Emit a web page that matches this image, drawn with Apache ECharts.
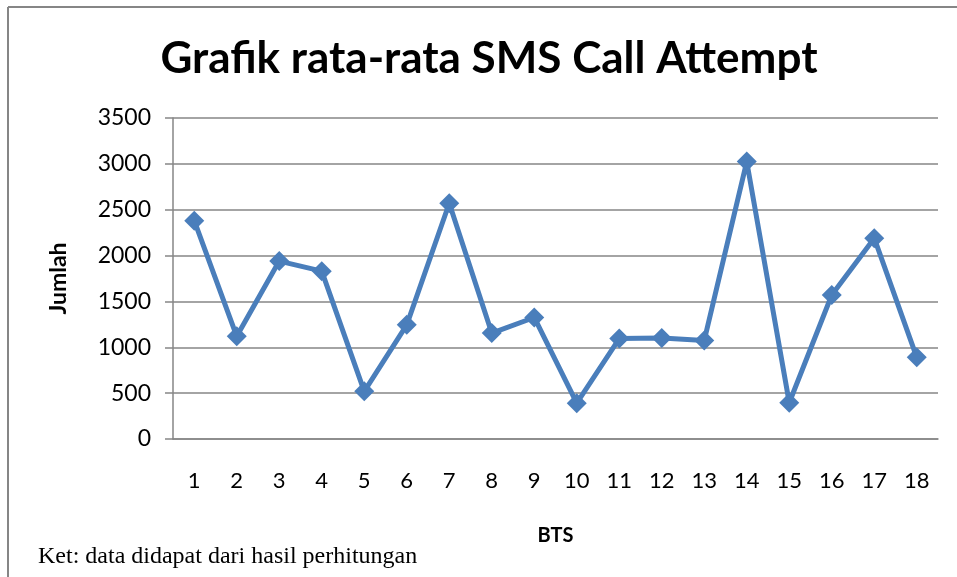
<!DOCTYPE html>
<html>
<head>
<meta charset="utf-8">
<title>Grafik rata-rata SMS Call Attempt</title>
<script src="https://cdn.jsdelivr.net/npm/echarts@6/dist/echarts.min.js"></script>
<style>
  html, body { margin: 0; padding: 0; background: #fff; }
  #chart { width: 957px; height: 577px; }
</style>
</head>
<body>
<div id="chart"></div>
<script>
'use strict';

// BTS numbers along the x axis
var btsLabels = ['1', '2', '3', '4', '5', '6', '7', '8', '9', '10', '11', '12', '13', '14', '15', '16', '17', '18'];
// average SMS call attempts per BTS
var smsAttempt = [2380, 1120, 1940, 1830, 520, 1245, 2570, 1155, 1325, 390, 1095, 1100, 1075, 3025, 395, 1570, 2190, 890];
// y axis range
var yMin = 0;
var yMax = 3500;
var yStep = 500;

var chartDom = document.getElementById('chart');
var myChart = echarts.init(chartDom);

var gray = '#868686';
var blue = '#4a7ebb';

var option = {
   animation: false,
   title: [
      {
         text: 'Grafik rata-rata SMS Call Attempt',
         left: 489,
         top: 37,
         padding: 0,
         textAlign: 'center',
         textStyle: { fontFamily: 'Lato', fontWeight: 'bold', fontSize: 44, color: '#000' }
      },
      {
         text: 'Ket: data didapat dari hasil perhitungan',
         left: 38,
         top: 545,
         padding: 0,
         textStyle: { fontFamily: 'Liberation Serif', fontWeight: 'normal', fontSize: 24, color: '#000' }
      }
   ],
   graphic: [
      { type: 'line', shape: { x1: 8, y1: 7, x2: 957, y2: 7 }, style: { stroke: gray, lineWidth: 2 } },
      { type: 'line', shape: { x1: 8, y1: 7, x2: 8, y2: 577 }, style: { stroke: gray, lineWidth: 2 } }
   ],
   grid: { left: 173, right: 19, top: 118, bottom: 138 },
   xAxis: {
      type: 'category',
      data: btsLabels,
      boundaryGap: true,
      name: 'BTS',
      nameLocation: 'middle',
      nameGap: 87,
      nameTextStyle: { fontFamily: 'Lato', fontWeight: 'bold', fontSize: 20, color: '#000' },
      axisLine: { lineStyle: { color: gray, width: 1.5 } },
      axisTick: { show: false },
      axisLabel: { margin: 31, fontFamily: 'Lato', fontSize: 22, color: '#000' }
   },
   yAxis: {
      type: 'value',
      min: yMin,
      max: yMax,
      interval: yStep,
      name: 'Jumlah',
      nameLocation: 'middle',
      nameGap: 103,
      nameTextStyle: { fontFamily: 'Lato', fontWeight: 'bold', fontSize: 23, color: '#000' },
      axisLine: { show: true, lineStyle: { color: gray, width: 1.5 } },
      axisTick: { show: true, length: 8, lineStyle: { color: gray, width: 1.5 } },
      axisLabel: {
         margin: 22,
         fontFamily: 'Lato',
         fontSize: 23,
         color: '#000',
         formatter: function (v) { return String(v); }
      },
      splitLine: { lineStyle: { color: gray, width: 1.5 } }
   },
   series: [
      {
         name: 'SMS Call Attempt',
         type: 'line',
         data: smsAttempt,
         symbol: 'diamond',
         symbolSize: 20,
         lineStyle: { color: blue, width: 5 },
         itemStyle: { color: blue }
      }
   ]
};

myChart.setOption(option);
</script>
</body>
</html>
